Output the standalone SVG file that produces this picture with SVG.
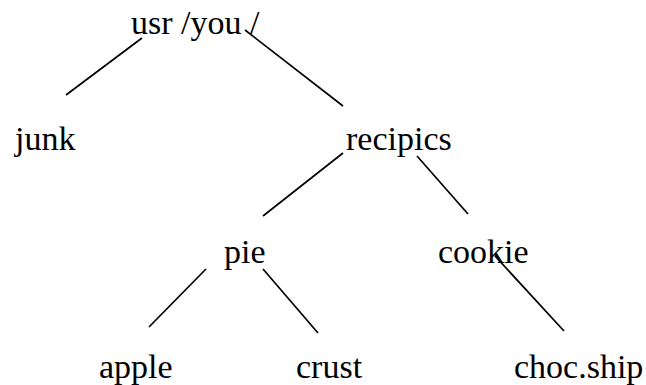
<svg xmlns="http://www.w3.org/2000/svg" width="646" height="385" viewBox="0 0 646 385">
<style>
text{font-family:"Liberation Serif","Times New Roman",serif;font-size:34px;fill:#000}
.c line{stroke:#000;stroke-width:1.7;stroke-linecap:butt}
</style>
<rect width="646" height="385" fill="#fff"/>
<g id="connectors" class="c">
<line x1="142" y1="38" x2="66" y2="95"/>
<line x1="245" y1="30" x2="343" y2="106"/>
<line x1="343" y1="153" x2="263" y2="216"/>
<line x1="417" y1="156" x2="468" y2="214"/>
<line x1="206" y1="269" x2="149" y2="327"/>
<line x1="263" y1="269" x2="318" y2="333"/>
<line x1="495" y1="256" x2="564" y2="331"/>
</g>
<g id="node-usr"><text x="131" y="34">usr /you /</text></g>
<g id="node-junk"><text x="15" y="150">junk</text></g>
<g id="node-recipics"><text x="346" y="150">recipics</text></g>
<g id="node-pie"><text x="224" y="263">pie</text></g>
<g id="node-cookie"><text x="438" y="263">cookie</text></g>
<g id="node-apple"><text x="99" y="378">apple</text></g>
<g id="node-crust"><text x="296" y="378">crust</text></g>
<g id="node-chocship"><text x="514" y="378">choc.ship</text></g>
</svg>
